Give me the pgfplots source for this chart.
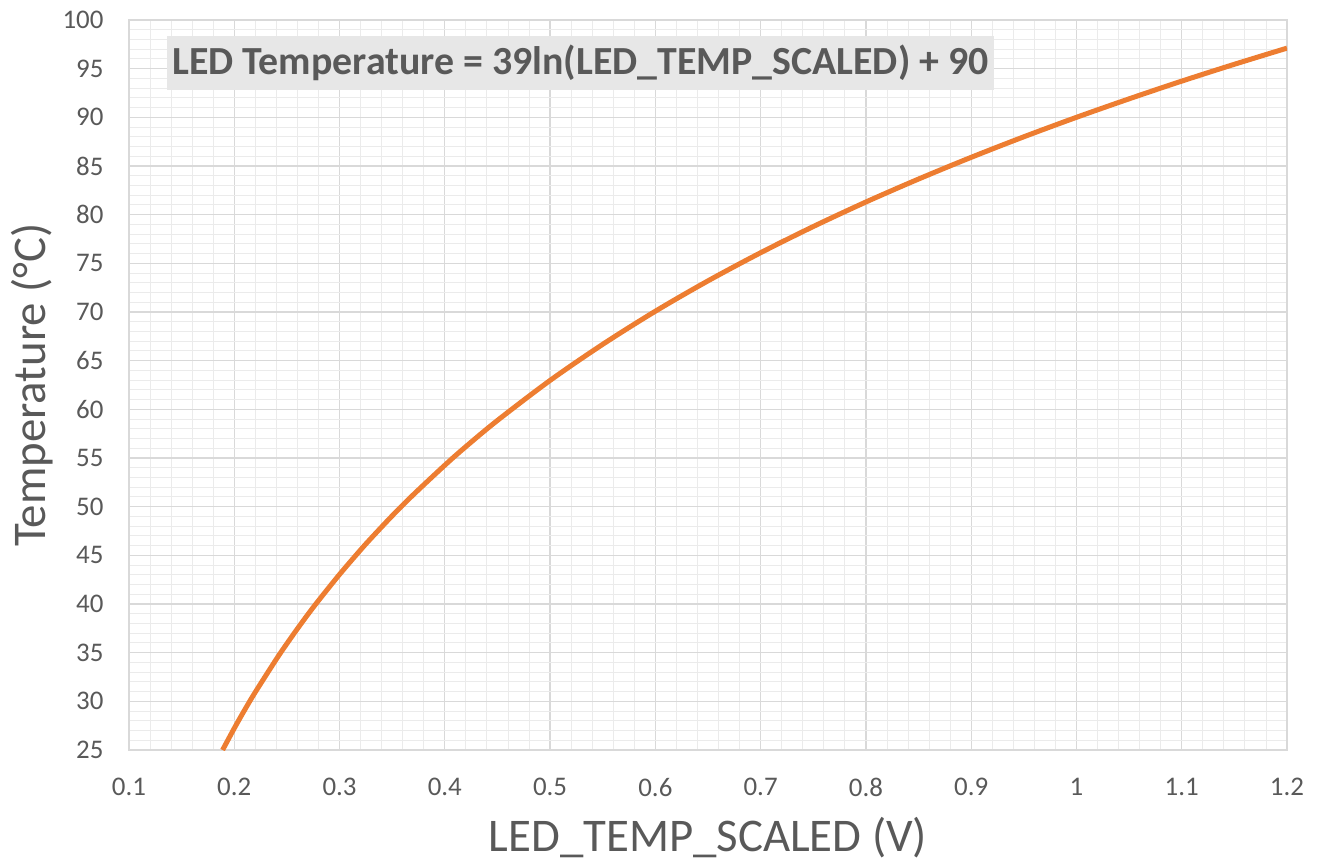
\documentclass[border=0pt]{standalone}
\usepackage{fontspec}
\setmainfont{Carlito}
\usepackage{pgfplots}
\pgfplotsset{compat=1.18}
\definecolor{curve}{HTML}{ED7D31}
\definecolor{txt}{HTML}{595959}
\definecolor{maj}{HTML}{D9D9D9}
\definecolor{minr}{HTML}{EBEBEB}
\definecolor{boxbg}{HTML}{E7E7E7}
\begin{document}
\begin{tikzpicture}
\path[use as bounding box] (-129bp,-112bp) rectangle (1188bp,750bp);
\begin{axis}[
  at={(0,0)}, anchor=south west,
  scale only axis, width=1158bp, height=730bp,
  xmin=0.1, xmax=1.2, ymin=25, ymax=100,
  xtick={0.1,0.2,...,1.21}, ytick={25,30,...,100},
  minor x tick num=4, minor y tick num=4,
  grid=both,
  major grid style={maj, line width=1.2bp},
  minor grid style={minr, line width=0.9bp},
  major tick length=0pt, minor tick length=0pt,
  axis line style={maj, line width=1.2bp},
  /pgf/number format/assume math mode=true,
  xticklabel style={font=\fontsize{27}{31}\selectfont, text=txt, yshift=-25bp, /pgf/number format/fixed, /pgf/number format/precision=1},
  yticklabel style={font=\fontsize{27}{31}\selectfont, text=txt, xshift=-22bp},
  xlabel={LED\_TEMP\_SCALED (V)},
  ylabel={Temperature (°C)},
  xlabel style={at={(rel axis cs:0.5,0)}, anchor=center, yshift=-88bp, font=\fontsize{47}{52}\selectfont, text=txt},
  ylabel style={at={(rel axis cs:0,0.5)}, anchor=center, yshift=97bp, font=\fontsize{47}{52}\selectfont, text=txt},
  clip=true,
]
\addplot[curve, line width=5bp, smooth] coordinates {
(0.1889,25.00) (0.20,27.23) (0.21,29.14) (0.22,30.95) (0.24,34.34) (0.25,35.93)
(0.26,37.46) (0.27,38.94) (0.28,40.35) (0.30,43.04) (0.32,45.56) (0.33,46.76)
(0.35,49.06) (0.37,51.22) (0.40,54.26) (0.42,56.17) (0.45,58.86) (0.50,62.97)
(0.55,66.68) (0.60,70.08) (0.65,73.20) (0.70,76.09) (0.75,78.78) (0.80,81.30)
(0.85,83.66) (0.90,85.89) (0.95,88.00) (1.00,90.00) (1.05,91.90) (1.10,93.72)
(1.15,95.45) (1.20,97.11)
};
\node[fill=boxbg, anchor=west, inner xsep=5bp, minimum height=54bp, text=txt, font=\fontsize{40}{46}\selectfont\bfseries] at (rel axis cs:0.0328,0.941) {LED Temperature = 39ln(LED\_TEMP\_SCALED) + 90};
\end{axis}
\end{tikzpicture}
\end{document}
